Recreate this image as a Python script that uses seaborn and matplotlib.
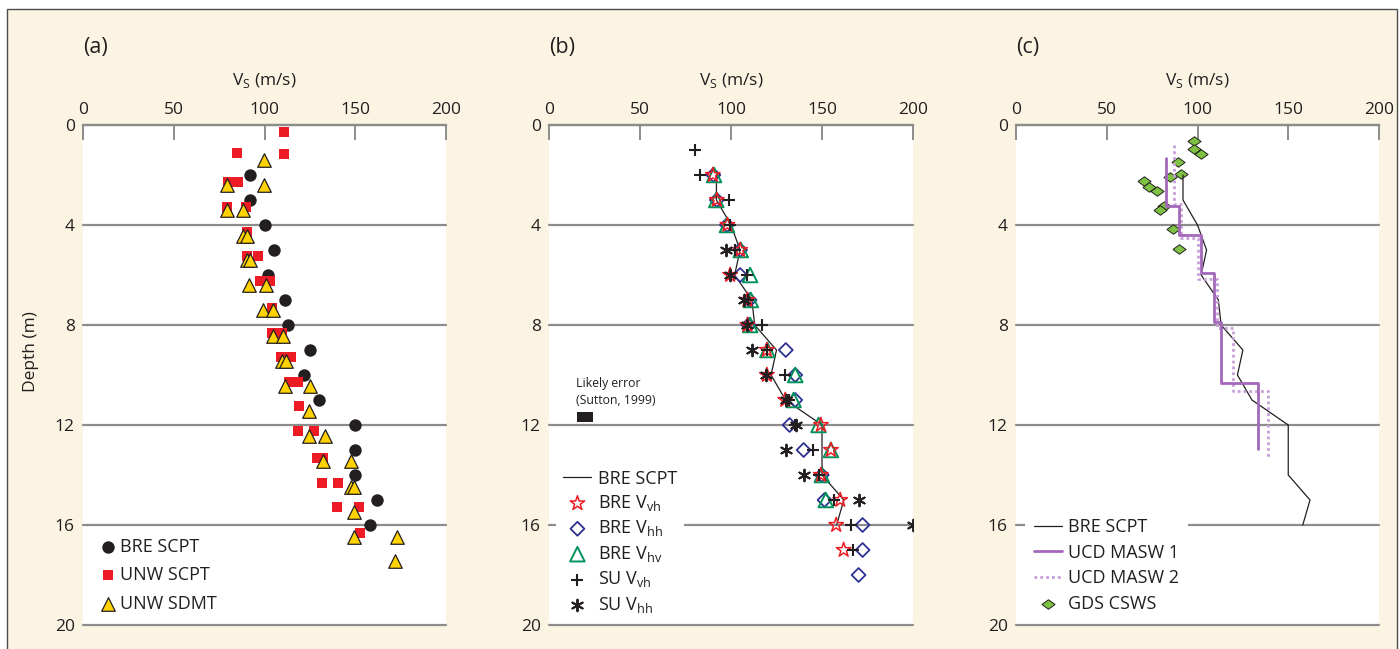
import numpy as np
import pandas as pd
import seaborn as sns
import matplotlib.pyplot as plt
from matplotlib.patches import Rectangle

# ---------------- data (Vs in m/s, depth in m) ----------------
# BRE SCPT (used in all three panels)
bre_scpt_depth = [2, 3, 4, 5, 6, 7, 8, 9, 10, 11, 12, 13, 14, 15, 16]
bre_scpt_vs = [92, 92, 100, 105, 102, 111.5, 113, 125, 122, 130, 150, 150, 150, 162, 158]

# UNW SCPT
unw_scpt_depth = [0.29, 1.13, 1.17, 2.28, 2.28, 3.29, 3.29, 4.27, 5.24, 5.24, 6.24, 6.24,
                  7.3, 8.33, 8.33, 9.27, 9.27, 10.29, 10.29, 11.24, 12.24, 12.24, 13.32,
                  13.32, 14.33, 14.33, 15.29, 15.29, 16.3]
unw_scpt_vs = [110.8, 84.7, 110.8, 80.1, 85.3, 79.2, 89.9, 90.2, 90.2, 96.5, 97.6, 103.1,
               104, 104, 109.5, 109.1, 114.5, 113.7, 118.7, 118.9, 118.3, 127.3, 128.8,
               132.4, 131.5, 140.3, 139.8, 152.1, 152.6]

# UNW SDMT
unw_sdmt_depth = [1.4, 2.41, 2.41, 3.4, 3.4, 4.43, 4.43, 5.4, 5.4, 6.4, 6.4, 7.4, 7.4,
                  8.43, 8.43, 9.43, 9.43, 10.44, 10.44, 11.44, 12.44, 12.44, 13.43, 13.43,
                  14.47, 14.47, 15.49, 16.47, 16.47, 17.43]
unw_sdmt_vs = [99.8, 79.6, 99.8, 79.6, 88.4, 88.4, 90.2, 90.2, 92.1, 91.5, 100.7, 98.9,
               104.6, 104.9, 110.1, 109.5, 111.9, 111.3, 125.1, 124.5, 124.7, 133.2, 132.4,
               147.5, 147.5, 149.5, 149.5, 149.5, 172.8, 171.9]

# panel (b)
bre_vvh_depth = [2, 3, 4, 5, 6, 7, 8, 9, 10, 11, 12, 13, 14, 15, 16, 17]
bre_vvh_vs = [90, 92.2, 98, 105, 99.5, 109, 109, 119.7, 119.7, 129.8, 149.4, 154.9, 149.4,
              160, 157.8, 161.9]
bre_vhh_depth = [2, 3, 4, 5, 6, 7, 8, 9, 10, 11, 12, 13, 14, 15, 16, 17, 18]
bre_vhh_vs = [90.3, 92.2, 97.8, 105, 105, 110.2, 109.6, 130.1, 135.3, 135.3, 132.2, 139.9,
              149.9, 151.4, 172.3, 172.3, 170.1]
bre_vhv_depth = [2, 3, 4, 5, 6, 7, 8, 9, 10, 11, 12, 13, 14, 15]
bre_vhv_vs = [90.7, 91.9, 97.8, 105.4, 110.5, 110.9, 110.5, 120, 135.3, 134.4, 148.1, 154.9,
              149.9, 152.1]
su_vvh_depth = [1, 2, 3, 4, 5, 6, 7, 8, 9, 10, 11, 12, 13, 14, 15, 16, 17]
su_vvh_vs = [80.3, 82.7, 99, 99.5, 102.3, 109, 109.3, 117, 120, 129.8, 131.6, 135, 145,
             148.1, 156.7, 165.9, 167]
su_vhh_depth = [5, 6, 7, 8, 9, 10, 11, 12, 13, 14, 15, 16]
su_vhh_vs = [97.2, 99.5, 106.9, 109, 111.8, 119.3, 130.3, 135.8, 130.1, 139.9, 170.1, 199.8]

# panel (c): layered MASW profiles (layer top/bottom depths and layer Vs)
masw1_bounds = [1.33, 3.24, 4.4, 5.9, 7.87, 10.3, 12.96]
masw1_vs = [82.6, 89.7, 102.2, 109.2, 112.7, 133.4]
masw2_bounds = [0.8, 3.16, 4.53, 6.16, 8.1, 10.63, 13.27]
masw2_vs = [87, 90.8, 100, 110.5, 119.3, 138.9]
gds_depth = [0.63, 0.96, 1.17, 1.47, 1.96, 2.09, 2.24, 2.47, 2.64, 3.24, 3.39, 4.16, 4.97]
gds_vs = [98, 98, 101.7, 89.4, 90.7, 84.8, 70.5, 73.4, 77.5, 81.5, 79.3, 86.6, 89.6]

x_ticks = [0, 50, 100, 150, 200]
depth_ticks = [0, 4, 8, 12, 16, 20]

INK = '#231f20'
GRID = '#8c8c8c'
BEIGE = '#fcf4e3'


def step_profile(bounds, vs):
    d = np.repeat(bounds, 2)[1:-1]
    v = np.repeat(vs, 2)
    return pd.DataFrame({'vs': v, 'depth': d})


def style_axes(ax, tag, ylabel=False):
    ax.set_xlim(0, 200)
    ax.set_ylim(20, 0)
    ax.set_facecolor('white')
    ax.xaxis.tick_top()
    ax.xaxis.set_label_position('top')
    ax.set_xticks(x_ticks)
    ax.set_yticks(depth_ticks)
    ax.tick_params(axis='x', direction='in', length=11, width=1.4, color=GRID,
                   labelsize=12.5, labelcolor=INK, pad=5)
    ax.tick_params(axis='y', length=0, labelsize=12.5, labelcolor=INK, pad=6)
    for s in ['left', 'right', 'bottom']:
        ax.spines[s].set_visible(False)
    ax.spines['top'].set_color(GRID)
    ax.spines['top'].set_linewidth(1.6)
    ax.grid(axis='y', color=GRID, lw=1.6)
    ax.grid(axis='x', visible=False)
    for gl in ax.get_ygridlines():
        gl.set_clip_on(False)
    ax.set_axisbelow(True)
    ax.set_xlabel(r'V$_\mathregular{S}$ (m/s)', fontsize=12.5, color=INK, labelpad=12)
    ax.set_ylabel('Depth (m)' if ylabel else '', fontsize=12.5, color=INK)
    ax.yaxis.set_label_coords(-0.12, 0.546)
    ax.text(0, 1.154, tag, transform=ax.transAxes, fontsize=15.5, color=INK,
            ha='left', va='center')


sns.set_theme(style='white')
plt.rcParams['font.family'] = ['Open Sans', 'DejaVu Sans']

fig = plt.figure(figsize=(14, 6.49), dpi=100)
fig.patch.set_facecolor('white')
fig.add_artist(Rectangle((7 / 1400, -0.05), 1390 / 1400, 1.05 - 9 / 649,
                         transform=fig.transFigure, facecolor=BEIGE,
                         edgecolor='#4d4d4d', lw=1, zorder=-10))

W, H = 1400, 649
ax_a = fig.add_axes([83 / W, 24 / H, 363 / W, 500 / H])
ax_b = fig.add_axes([549 / W, 24 / H, 364 / W, 500 / H])
ax_c = fig.add_axes([1016 / W, 24 / H, 363 / W, 500 / H])

# ---------------- (a) ----------------
sns.scatterplot(x=bre_scpt_vs, y=bre_scpt_depth, ax=ax_a, marker='o', s=80,
                color=INK, edgecolor=INK, linewidth=0, label='BRE SCPT', zorder=3)
sns.scatterplot(x=unw_scpt_vs, y=unw_scpt_depth, ax=ax_a, marker='s', s=56,
                color='#ed1c24', edgecolor='#ed1c24', linewidth=0, label='UNW SCPT', zorder=3)
sns.scatterplot(x=unw_sdmt_vs, y=unw_sdmt_depth, ax=ax_a, marker='^', s=95,
                color='#ffd200', edgecolor=INK, linewidth=0.9, label='UNW SDMT', zorder=4)
style_axes(ax_a, '(a)', ylabel=True)
ax_a.legend(loc='lower left', bbox_to_anchor=(0.008, -0.004), frameon=False, fontsize=13,
            handlelength=0.8, handletextpad=0.3, labelspacing=0.58, borderpad=0.3,
            labelcolor=INK)

# ---------------- (b) ----------------
sns.lineplot(x=bre_scpt_vs, y=bre_scpt_depth, ax=ax_b, sort=False, estimator=None,
             color=INK, lw=0.9, label='BRE SCPT', zorder=2)
sns.scatterplot(x=bre_vhh_vs, y=bre_vhh_depth, ax=ax_b, marker='D', s=50,
                color='#2e3192', facecolor='none', edgecolor='#2e3192', linewidth=1.3,
                label=r'BRE V$_\mathregular{hh}$', zorder=3)
sns.scatterplot(x=bre_vhv_vs, y=bre_vhv_depth, ax=ax_b, marker='^', s=110,
                color='#00925a', facecolor='none', edgecolor='#00925a', linewidth=1.4,
                label=r'BRE V$_\mathregular{hv}$', zorder=3)
sns.scatterplot(x=bre_vvh_vs, y=bre_vvh_depth, ax=ax_b, marker='*', s=120,
                color='#ed1c24', facecolor='none', edgecolor='#ed1c24', linewidth=1.1,
                label=r'BRE V$_\mathregular{vh}$', zorder=3)
sns.scatterplot(x=su_vvh_vs, y=su_vvh_depth, ax=ax_b, marker='+', s=80,
                color=INK, linewidth=1.5, label=r'SU V$_\mathregular{vh}$', zorder=4)
sns.scatterplot(x=su_vhh_vs, y=su_vhh_depth, ax=ax_b, marker=(6, 2, 0), s=70,
                color=INK, linewidth=1.4, label=r'SU V$_\mathregular{hh}$', zorder=4)
style_axes(ax_b, '(b)')
handles, labels = ax_b.get_legend_handles_labels()
order_b = ['BRE SCPT', r'BRE V$_\mathregular{vh}$', r'BRE V$_\mathregular{hh}$',
           r'BRE V$_\mathregular{hv}$', r'SU V$_\mathregular{vh}$', r'SU V$_\mathregular{hh}$']
hmap = dict(zip(labels, handles))
ax_b.legend([hmap[k] for k in order_b], order_b, loc='lower left',
            bbox_to_anchor=(-0.005, -0.012), frameon=True, facecolor='white',
            edgecolor='none', framealpha=1, fancybox=False, fontsize=13,
            handlelength=1.55, handletextpad=0.35, labelspacing=0.3,
            borderpad=0.4, labelcolor=INK)
ax_b.text(0.073, 10.36, 'Likely error', transform=ax_b.get_yaxis_transform(),
          fontsize=8.8, color=INK, va='center', ha='left')
ax_b.text(0.073, 11.0, '(Sutton, 1999)', transform=ax_b.get_yaxis_transform(),
          fontsize=8.8, color=INK, va='center', ha='left')
ax_b.add_patch(Rectangle((15.5, 11.48), 8.7, 0.4, facecolor=INK, edgecolor='none', zorder=3))

# ---------------- (c) ----------------
diamond = [(-1, 0), (0, 0.72), (1, 0), (0, -0.72), (-1, 0)]
sns.scatterplot(x=gds_vs, y=gds_depth, ax=ax_c, marker=diamond, s=90,
                color='#7dc242', edgecolor=INK, linewidth=0.7, label='GDS CSWS', zorder=2)
sns.lineplot(x=bre_scpt_vs, y=bre_scpt_depth, ax=ax_c, sort=False, estimator=None,
             color=INK, lw=0.9, label='BRE SCPT', zorder=3)
m2 = step_profile(masw2_bounds, masw2_vs)
sns.lineplot(data=m2, x='vs', y='depth', ax=ax_c, sort=False, estimator=None,
             color='#c89ed8', lw=2.0, linestyle=(0, (1, 1.1)), label='UCD MASW 2', zorder=4)
m1 = step_profile(masw1_bounds, masw1_vs)
sns.lineplot(data=m1, x='vs', y='depth', ax=ax_c, sort=False, estimator=None,
             color='#a468bb', lw=2.0, label='UCD MASW 1', zorder=5)
style_axes(ax_c, '(c)')
handles, labels = ax_c.get_legend_handles_labels()
order_c = ['BRE SCPT', 'UCD MASW 1', 'UCD MASW 2', 'GDS CSWS']
hmap = dict(zip(labels, handles))
ax_c.legend([hmap[k] for k in order_c], order_c, loc='lower left',
            bbox_to_anchor=(0.0, -0.012), frameon=True, facecolor='white',
            edgecolor='none', framealpha=1, fancybox=False, fontsize=13,
            handlelength=1.55, handletextpad=0.35, labelspacing=0.42,
            borderpad=0.5, labelcolor=INK)

fig.savefig('out.png', dpi=100, facecolor=fig.get_facecolor())
